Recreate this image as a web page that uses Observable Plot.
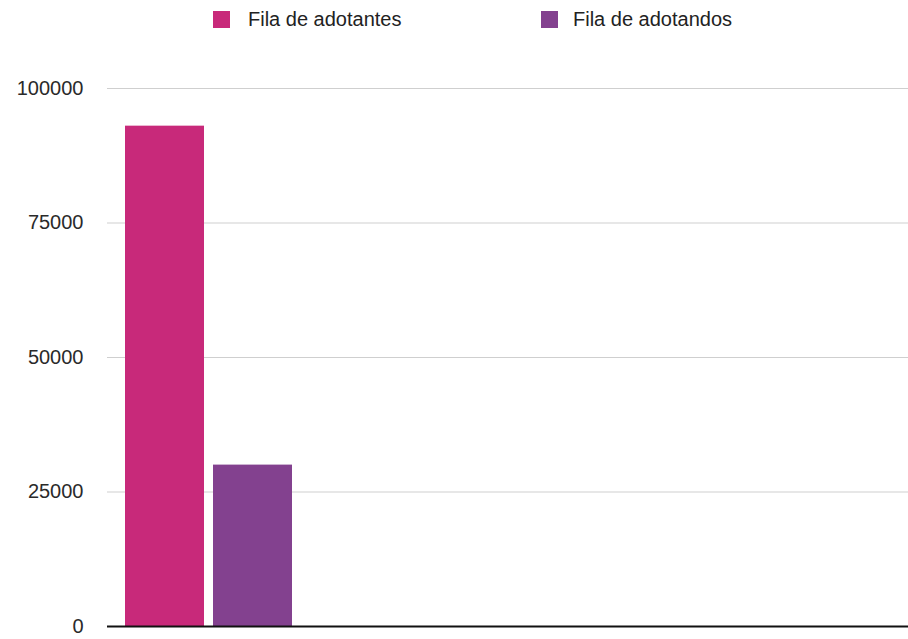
<!DOCTYPE html>
<html>
<head>
<meta charset="utf-8">
<script src="https://cdn.jsdelivr.net/npm/d3@7"></script>
<script src="https://cdn.jsdelivr.net/npm/@observablehq/plot@0.6"></script>
<style>
  body { margin: 0; background: #fff; font-family: "Liberation Sans", Arial, Helvetica, sans-serif; }
  #legend { position: relative; height: 44px; width: 908px; font-size: 20px; color: #222; }
  .sw { position: absolute; top: 11px; width: 17px; height: 17px; }
  .lb { position: absolute; top: 8px; line-height: 22px; }
  #chart svg { display: block; }
</style>
</head>
<body>
<div id="legend"></div>
<div id="chart"></div>
<script>
const series = ["Fila de adotantes", "Fila de adotandos"];
const values = [93000, 30000];
const colors = ["#C8297A", "#83418F"];
const yTicks = [0, 25000, 50000, 75000, 100000];

const data = series.map((s, i) => ({series: s, value: values[i]}));

// Legend (HTML, above the SVG)
const legend = document.getElementById("legend");
const legendPos = [[213, 248], [541, 573]];
series.forEach((s, i) => {
  const sw = document.createElement("div");
  sw.className = "sw";
  sw.style.left = legendPos[i][0] + "px";
  sw.style.background = colors[i];
  legend.appendChild(sw);
  const lb = document.createElement("div");
  lb.className = "lb";
  lb.style.left = legendPos[i][1] + "px";
  lb.textContent = s;
  legend.appendChild(lb);
});

const chart = Plot.plot({
  width: 908,
  height: 595,
  marginLeft: 107,
  marginRight: 0,
  marginTop: 44,
  marginBottom: 13,
  style: {fontFamily: "'Liberation Sans', Arial, Helvetica, sans-serif", fontSize: "20px", color: "#333", background: "#fff"},
  x: {type: "band", domain: series, range: [124, 293], paddingInner: 0.1, paddingOuter: 0, axis: null},
  y: {domain: [0, 100000], ticks: yTicks},
  color: {domain: series, range: colors},
  marks: [
    Plot.ruleY(yTicks.filter(d => d > 0), {stroke: "#cfcfcf", strokeWidth: 1}),
    Plot.barY(data, {x: "series", y: "value", fill: "series"}),
    Plot.ruleY([0], {stroke: "#111", strokeWidth: 2}),
    Plot.axisY(yTicks, {tickSize: 0, tickPadding: 24, fontSize: 20, tickFormat: d => String(d), label: null, fill: "#2a2a2a"})
  ]
});
document.getElementById("chart").appendChild(chart);
</script>
</body>
</html>
